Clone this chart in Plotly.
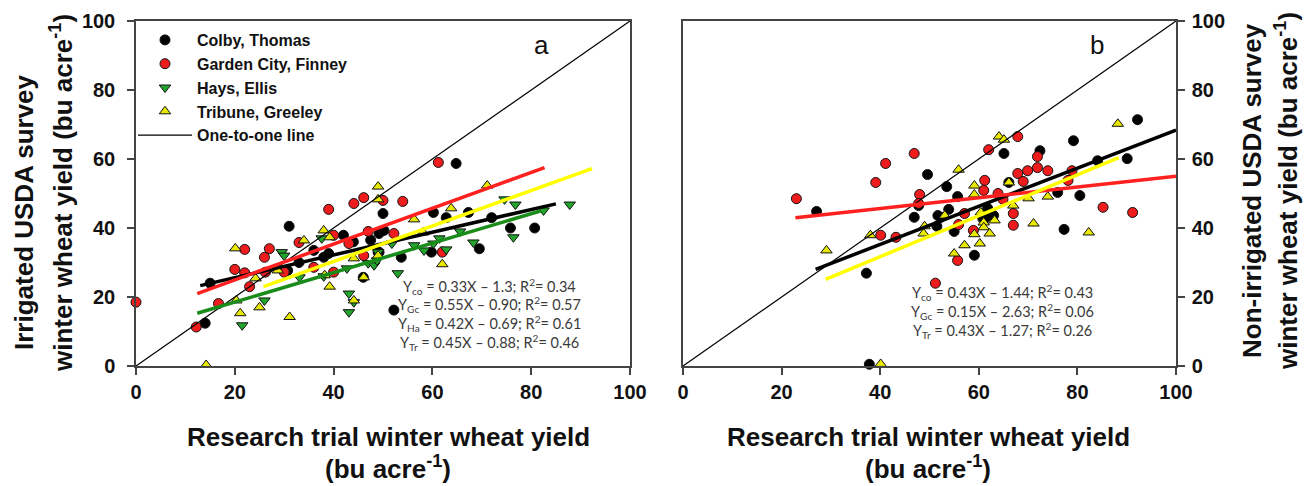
import plotly.graph_objects as go

# ---------------- data ----------------
# Panel a : irrigated
colby_irr_x = [14, 15, 31, 30.7, 33, 36, 38, 39, 42, 44, 46, 47.5, 49.2, 49.2, 49, 50, 50.2, 52.2, 53.7,
               59.8, 60.2, 62.8, 64.8, 67.3, 69.5, 72, 75.8, 80.7]
colby_irr_y = [12.4, 24, 40.5, 27.7, 30, 33.5, 31.5, 32.6, 37.9, 36, 25.7, 36.5, 38.4, 33, 33, 44.2, 39.3, 16.2, 31.5,
               33, 44.5, 43, 58.7, 44.5, 34, 43, 40, 40]

garden_irr_x = [0, 12.2, 16.7, 20, 22, 22, 23, 26, 27, 26.2, 30, 33, 36, 39, 40, 40, 43.1, 44.1, 46.1, 46.1,
                47, 50, 52.2, 54, 61.2, 62]
garden_irr_y = [18.5, 11.3, 18.1, 28, 33.8, 27, 23, 31.5, 34, 27.2, 27.2, 35.8, 28.6, 45.4, 27.2, 37.9, 35.5, 47.1, 48.8, 32,
                39, 48, 38.4, 47.7, 59, 33]

hays_irr_x = [21.5, 26, 29.5, 30, 33.1, 37.6, 38, 42.7, 43.1, 44.1, 43.1, 47, 48.2, 48.8, 49, 51.8, 53, 56.3, 58.3,
              60.2, 61.4, 62.8, 65.6, 68.3, 74.6, 76.4, 76.8, 82.5, 87.8]
hays_irr_y = [11.8, 19, 33, 32, 25.7, 37, 26, 28.3, 21, 18.5, 15.6, 29.8, 29.2, 30.6, 33, 35.5, 26.9, 35, 33.5,
              35.5, 37, 33.8, 39, 35.8, 48.3, 37.3, 46.8, 45.1, 46.8]

tribune_irr_x = [14.2, 20.1, 20.3, 21.1, 24.2, 25, 28.7, 31.1, 34, 38, 38.2, 39.2, 39.2, 44.1, 44.1, 46.1, 49, 49, 49,
                 56.3, 58.1, 62, 63.8, 71.1]
tribune_irr_y = [0.3, 34.1, 19, 15.3, 25.4, 17, 27.7, 14.2, 36.4, 39.3, 26.3, 23, 37.3, 31.2, 19, 25.7, 52, 48.3, 32,
                 42.5, 38.7, 29.5, 45.7, 52.3]

# Panel b : non-irrigated
colby_dry_x = [37.8, 27.1, 37.2, 49.6, 46.9, 47.8, 53.5, 55.7, 53.9, 52.3, 51.5, 55.0, 59.1, 65.1, 66.1, 60.8, 63.0,
               61.8, 72.4, 79.2, 92.2, 90.1, 84.1, 80.5, 77.3, 76.0, 61.4, 51.7]
colby_dry_y = [0.5, 44.8, 26.9, 55.5, 43.1, 46.5, 52, 49.1, 45.4, 43.1, 40.5, 39, 32.1, 61.6, 53.2, 42.8, 43.6,
               45.7, 62.4, 65.3, 71.4, 60.1, 59.5, 49.4, 39.6, 50.3, 43, 43.6]

garden_dry_x = [23.0, 39.1, 41.1, 46.9, 48.0, 40.1, 43.2, 47.8, 55.9, 58.9, 55.7, 51.2, 61.2, 61.0, 62.0, 57.1, 63.9,
                67.9, 71.9, 71.9, 69.9, 67.9, 74.0, 69.0, 64.9, 67.0, 67.0, 85.2, 91.2, 78.9, 78.1]
garden_dry_y = [48.5, 53.2, 58.7, 61.6, 49.7, 37.9, 37.3, 47.1, 41, 39.3, 30.6, 24, 53.8, 50.9, 62.7, 44.2, 50,
                66.5, 60.7, 57.5, 56.6, 55.8, 56.6, 53.5, 48.3, 44.2, 40.8, 46, 44.5, 56.6, 53.8]

tribune_dry_x = [40.1, 29.1, 38.0, 49.0, 48.8, 55.9, 64.1, 65.1, 59.1, 59.1, 53.1, 60.4, 61.0, 61.0, 59.1, 62.2, 60.2,
                 57.1, 55.0, 63.2, 66.1, 67.0, 70.1, 74.0, 71.1, 82.3, 88.2]
tribune_dry_y = [0.6, 33.5, 37.9, 40.5, 38.4, 56.9, 66.5, 65.6, 52.3, 49.7, 43.6, 44.5, 41.6, 40.2, 38.2, 38.4,
                 35.5, 35, 32.6, 42.2, 53.2, 46.5, 48.6, 49.1, 41.3, 38.7, 70.2]

# Regression line end points
fit_colby_irr_x, fit_colby_irr_y = [13, 85], [23.3, 47]
fit_garden_irr_x, fit_garden_irr_y = [12.4, 82.7], [21, 57.5]
fit_hays_irr_x, fit_hays_irr_y = [12.4, 82], [15.3, 45]
fit_tribune_irr_x, fit_tribune_irr_y = [25.8, 92.3], [23, 57.2]

fit_colby_dry_x, fit_colby_dry_y = [26.9, 100], [28, 68.4]
fit_garden_dry_x, fit_garden_dry_y = [22.8, 100], [43, 55]
fit_tribune_dry_x, fit_tribune_dry_y = [28.9, 88.4], [25.1, 60.4]

one_to_one = [0, 100]

tick_vals = [0, 20, 40, 60, 80, 100]

eq_left = ["Y<sub>co</sub> = 0.33X \u2013 1.3; R<sup>2</sup>= 0.34",
           "Y<sub>Gc</sub> = 0.55X \u2013 0.90; R<sup>2</sup>= 0.57",
           "Y<sub>Ha</sub> = 0.42X \u2013 0.69; R<sup>2</sup>= 0.61",
           "Y<sub>Tr</sub> = 0.45X \u2013 0.88; R<sup>2</sup>= 0.46"]
eq_right = ["Y<sub>co</sub> = 0.43X \u2013 1.44; R<sup>2</sup>= 0.43",
            "Y<sub>Gc</sub> = 0.15X \u2013 2.63; R<sup>2</sup>= 0.06",
            "Y<sub>Tr</sub> = 0.43X \u2013 1.27; R<sup>2</sup>= 0.26"]

# ---------------- styling ----------------
W, H = 1314, 486
OFF = 8  # page offset of the figure inside the browser window
FONT = "Liberation Sans"
BLACK, RED, GREEN, YELLOW = "#000000", "#ee1c1c", "#22a52c", "#e8e800"


def px(x):
    return (x - OFF) / W


def py(y):
    return 1 - (y - OFF) / H


fig = go.Figure()


def pts(x, y, name, color, symbol, xa, ya, show):
    fig.add_trace(go.Scatter(
        x=x, y=y, mode="markers", name=name, showlegend=show,
        xaxis=xa, yaxis=ya, cliponaxis=False,
        marker=dict(color=color, symbol=symbol, size=10, line=dict(color="#111111", width=1))))


def line(x, y, color, width, xa, ya, name=None, show=False):
    fig.add_trace(go.Scatter(
        x=x, y=y, mode="lines", name=name, showlegend=show, xaxis=xa, yaxis=ya,
        line=dict(color=color, width=width), hoverinfo="skip"))


# Panel a
pts(colby_irr_x, colby_irr_y, "Colby, Thomas", BLACK, "circle", "x", "y", True)
pts(garden_irr_x, garden_irr_y, "Garden City, Finney", RED, "circle", "x", "y", True)
pts(hays_irr_x, hays_irr_y, "Hays, Ellis", GREEN, "triangle-down", "x", "y", True)
pts(tribune_irr_x, tribune_irr_y, "Tribune, Greeley", YELLOW, "triangle-up", "x", "y", True)
line(one_to_one, one_to_one, "#000000", 1.2, "x", "y", "One-to-one line", True)
line(fit_colby_irr_x, fit_colby_irr_y, BLACK, 3.5, "x", "y")
line(fit_garden_irr_x, fit_garden_irr_y, "#ff2020", 3.5, "x", "y")
line(fit_hays_irr_x, fit_hays_irr_y, "#1a8c1a", 3.5, "x", "y")
line(fit_tribune_irr_x, fit_tribune_irr_y, "#ffff00", 3.5, "x", "y")

# Panel b
pts(colby_dry_x, colby_dry_y, "Colby, Thomas", BLACK, "circle", "x2", "y2", False)
pts(garden_dry_x, garden_dry_y, "Garden City, Finney", RED, "circle", "x2", "y2", False)
pts(tribune_dry_x, tribune_dry_y, "Tribune, Greeley", YELLOW, "triangle-up", "x2", "y2", False)
line(one_to_one, one_to_one, "#000000", 1.2, "x2", "y2")
line(fit_colby_dry_x, fit_colby_dry_y, BLACK, 3.5, "x2", "y2")
line(fit_garden_dry_x, fit_garden_dry_y, "#ff2020", 3.5, "x2", "y2")
line(fit_tribune_dry_x, fit_tribune_dry_y, "#ffff00", 3.5, "x2", "y2")

axis_common = dict(range=[0, 100], tickvals=tick_vals, showgrid=False, zeroline=False,
                   showline=True, linecolor="#444444", linewidth=1.5, mirror=True,
                   ticks="outside", ticklen=7, tickcolor="#444444", tickwidth=1.5, automargin=False,
                   tickfont=dict(family=FONT, size=20, color="#111111", weight="bold"))

ydom = [py(366), py(21)]
fig.update_layout(
    width=W, height=H, margin=dict(l=0, r=0, t=0, b=0, pad=0, autoexpand=False),
    paper_bgcolor="white", plot_bgcolor="white",
    xaxis=dict(domain=[px(136), px(630)], anchor="y", **axis_common),
    yaxis=dict(domain=ydom, anchor="x", ticklabelstandoff=8, **axis_common),
    xaxis2=dict(domain=[px(683), px(1176)], anchor="y2", **axis_common),
    yaxis2=dict(domain=ydom, anchor="x2", side="right", ticklabelstandoff=3, **axis_common),
    legend=dict(x=px(133), y=py(23), xanchor="left", yanchor="top", itemwidth=54,
                bgcolor="rgba(0,0,0,0)", borderwidth=0,
                font=dict(family=FONT, size=16, color="#111111", weight="bold")),
    showlegend=True,
)

ann = []
title_font = dict(family=FONT, size=26, color="#111111", weight="bold")


def add_text(x, y, text, font, angle=0):
    ann.append(dict(x=px(x), y=py(y), xref="paper", yref="paper", showarrow=False,
                    xanchor="center", yanchor="middle", textangle=angle, text=text, font=font))


# x axis titles
for cx in (388, 928):
    add_text(cx, 437, "Research trial winter wheat yield", title_font)
    add_text(cx, 467, "(bu acre<sup>-1</sup>)", title_font)
# y axis titles
add_text(24, 212, "Irrigated USDA survey", title_font, -90)
add_text(61, 193, "winter wheat yield (bu acre<sup>-1</sup>)", title_font, -90)
add_text(1252, 191, "Non-irrigated USDA survey", title_font, -90)
add_text(1286, 191, "winter wheat yield (bu acre<sup>-1</sup>)", title_font, -90)
# panel letters
add_text(541, 45, "a", dict(family=FONT, size=26, color="#111111"))
add_text(1097, 45, "b", dict(family=FONT, size=26, color="#111111"))
# equations
eq_font = dict(family="Lato", size=14.5, color="#3a3a3a")
for i, t in enumerate(eq_left):
    add_text(489, 286 + 18.7 * i, t, eq_font)
for i, t in enumerate(eq_right):
    add_text(1002, 292 + 19 * i, t, eq_font)
fig.update_layout(annotations=ann)

fig.write_html("out.html")
